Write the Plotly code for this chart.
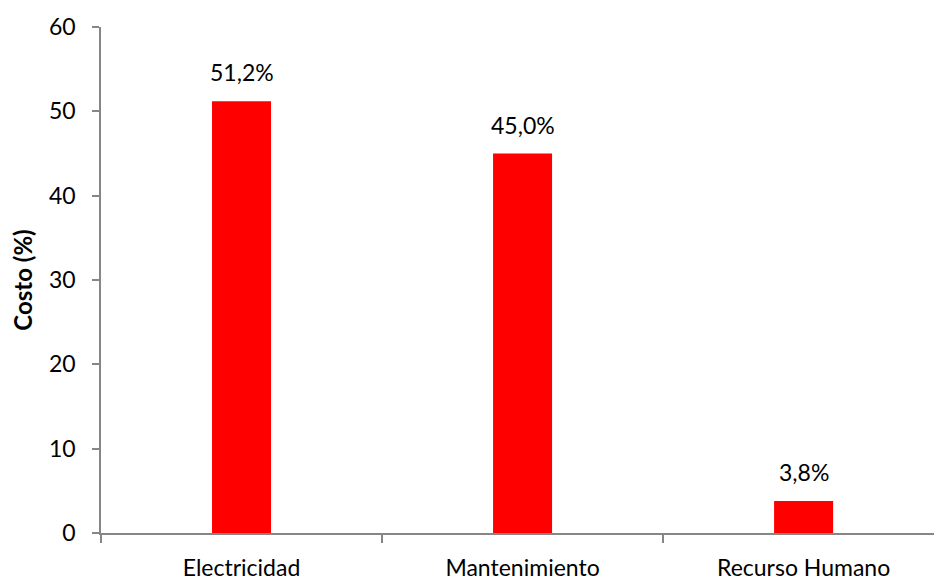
import plotly.graph_objects as go

categorias = ["Electricidad", "Mantenimiento", "Recurso Humano"]
costo_pct = [51.2, 45.0, 3.8]
y_ticks = [0, 10, 20, 30, 40, 50, 60]

FONT = "Lato, Carlito, Calibri, sans-serif"
AXIS_GRAY = "#868686"

etiquetas = [f"{v:.1f}%".replace(".", ",") for v in costo_pct]

fig = go.Figure(
    go.Bar(
        x=categorias,
        y=costo_pct,
        width=0.21,
        marker=dict(color="#FF0000", line=dict(width=0)),
        hoverinfo="skip",
    )
)

for cat, val, lab in zip(categorias, costo_pct, etiquetas):
    fig.add_annotation(
        x=cat, y=val, text=lab, showarrow=False,
        yanchor="bottom", yshift=13,
        font=dict(family=FONT, size=23, color="#000000"),
    )

fig.update_layout(
    width=934, height=581,
    margin=dict(l=101, r=0, t=27, b=44),
    paper_bgcolor="white", plot_bgcolor="white",
    showlegend=False,
    font=dict(family=FONT, size=23, color="#000000"),
)

fig.update_xaxes(
    range=[-0.5, 2.464],
    showline=True, linecolor=AXIS_GRAY, linewidth=1.5,
    ticks="outside", tickson="boundaries", ticklen=8,
    tickcolor=AXIS_GRAY, tickwidth=1.5,
    showgrid=False, zeroline=False,
    ticklabelstandoff=14,
    tickfont=dict(family=FONT, size=23, color="#000000"),
)

fig.update_yaxes(
    range=[0, 60], tickvals=y_ticks,
    showline=True, linecolor=AXIS_GRAY, linewidth=1.5,
    ticks="outside", ticklen=7, tickcolor=AXIS_GRAY, tickwidth=1.5,
    showgrid=False, zeroline=False,
    ticklabelstandoff=12,
    tickfont=dict(family=FONT, size=23, color="#000000"),
    title=dict(text="<b>Costo (%)</b>", standoff=10,
               font=dict(family=FONT, size=24, color="#000000")),
)

fig.write_html("out.html")
